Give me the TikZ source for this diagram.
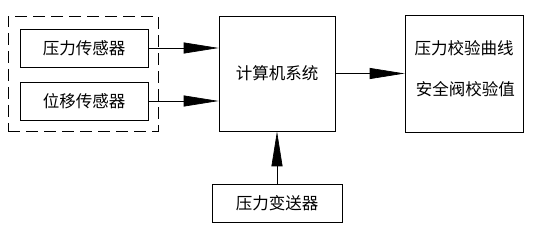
\documentclass[tikz,border=0pt]{standalone}
\usepackage{fontspec}
\newfontfamily\cjk{Noto Sans CJK SC}
\usetikzlibrary{positioning, arrows.meta}

\begin{document}
\begin{tikzpicture}[x=1pt, y=-1pt,
    box/.style={draw, line width=0.7pt, inner sep=0pt, font=\cjk\fontsize{16.5}{20}\selectfont},
    flow/.style={line width=0.7pt, -{Triangle[length=35pt, width=11pt]}}]
    \useasboundingbox (0,0) rectangle (536,229);
    % Grupo de sensores (caixa tracejada)
    \node[draw, line width=0.8pt, dash pattern=on 12pt off 6pt, minimum width=150pt, minimum height=115pt] (sensores) at (83,73.5) {};
    \node[box, minimum width=128pt, minimum height=38pt] (pressao) at (84,48) {压力传感器};
    \node[box, minimum width=128pt, minimum height=38pt] (desloc) at (84,101) {位移传感器};
    % Sistema de computador
    \node[box, minimum width=116pt, minimum height=115pt] (computador) at (277,73.5) {计算机系统};
    % Resultados
    \node[box, minimum width=118pt, minimum height=117pt] (saida) at (464,73.5) {};
    \node[font=\cjk\fontsize{16.5}{20}\selectfont, align=center, inner sep=0pt] (saidatxt) at (464,68.5) {压力校验曲线\\[21pt]\,安全阀校验值};
    % Transmissor de pressao
    \node[box, minimum width=130pt, minimum height=38pt] (transm) at (277,203) {压力变送器};
    % Setas
    \draw[flow] (pressao.east) -- (pressao.east -| computador.west);
    \draw[flow] (desloc.east) -- (desloc.east -| computador.west);
    \draw[flow] (computador.east) -- (saida.west);
    \draw[flow] (transm.north) -- (computador.south);
\end{tikzpicture}
\end{document}
